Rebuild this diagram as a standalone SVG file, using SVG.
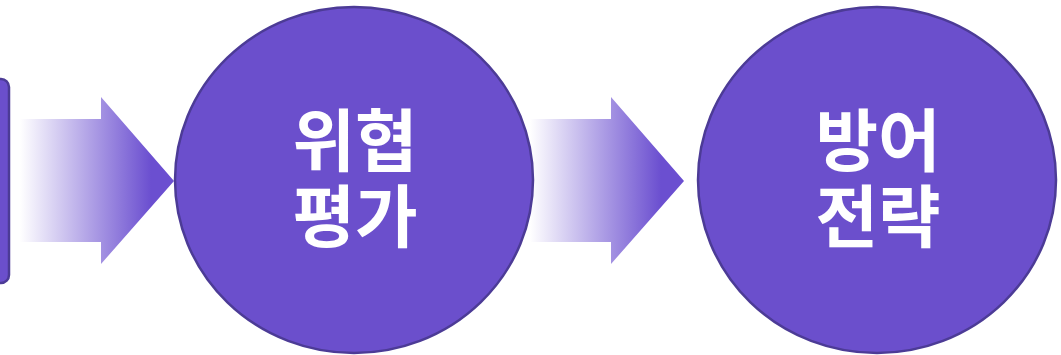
<svg xmlns="http://www.w3.org/2000/svg" width="1061" height="355" viewBox="0 0 1061 355">
<defs>
<linearGradient id="ag" x1="0" y1="0" x2="1" y2="0">
<stop offset="0" stop-color="#6b4fd0" stop-opacity="0"/>
<stop offset="0.85" stop-color="#6b4fd0" stop-opacity="1"/>
<stop offset="1" stop-color="#6b4fd0" stop-opacity="1"/>
</linearGradient>
<style>
.node{fill:#6b4fcc;stroke:#4c3b96;stroke-width:2.5}
.lbl{font-family:"Noto Sans CJK KR","Noto Sans",sans-serif;font-weight:700;font-size:68px;fill:#ffffff;text-anchor:middle}
.arr{fill:url(#ag)}
</style>
</defs>
<g id="connectors">
<polygon class="arr" points="20,119 101,119 101,97 174,181 101,264 101,242 20,242"/>
<polygon class="arr" points="530,119 611,119 611,97 684,181 611,264 611,242 530,242"/>
</g>
<g id="node-prev">
<rect class="node" x="-40" y="79" width="49" height="204" rx="8"/>
</g>
<g id="node-threat">
<ellipse class="node" cx="354" cy="180" rx="179" ry="173"/>
<text class="lbl" x="355" y="166">위협</text>
<text class="lbl" x="355" y="242">평가</text>
</g>
<g id="node-defense">
<ellipse class="node" cx="877" cy="180" rx="179" ry="173"/>
<text class="lbl" x="878" y="166">방어</text>
<text class="lbl" x="878" y="242">전략</text>
</g>
</svg>
